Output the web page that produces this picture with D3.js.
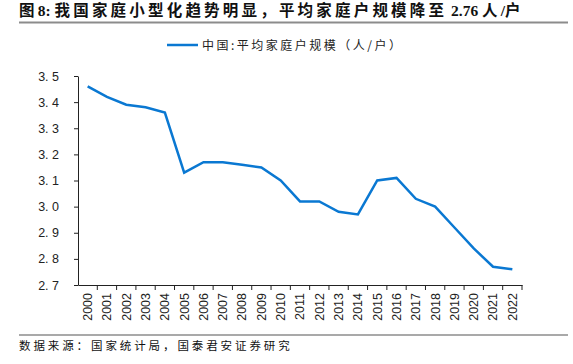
<!DOCTYPE html>
<html>
<head>
<meta charset="utf-8">
<script src="https://cdn.jsdelivr.net/npm/d3@7"></script>
<style>
  body { margin: 0; background: #fff; }
  svg { display: block; }
</style>
</head>
<body>
<svg width="573" height="364"></svg>
<script>
const years = ["2000","2001","2002","2003","2004","2005","2006","2007","2008","2009","2010",
  "2011","2012","2013","2014","2015","2016","2017","2018","2019","2020","2021","2022"];
const householdSize = [3.46, 3.42, 3.39, 3.38, 3.36, 3.13, 3.17, 3.17, 3.16, 3.15, 3.10,
  3.02, 3.02, 2.98, 2.97, 3.10, 3.11, 3.03, 3.00, 2.92, 2.84, 2.77, 2.76];
const yTicks = [2.7, 2.8, 2.9, 3.0, 3.1, 3.2, 3.3, 3.4, 3.5];
// title pieces: [text, isCJK]
const titleParts = [["图", true], ["8: ", false], ["我国家庭小型化趋势明显，平均家庭户规模降至", true],
  [" 2.76 ", false], ["人", true], ["/", false], ["户", true]];
const seriesName = "中国:平均家庭户规模（人/户）";
const sourceText = "数据来源：国家统计局，国泰君安证券研究";

const svg = d3.select("svg");
const cjk = "'Noto Sans CJK SC', sans-serif";
const serif = "'Liberation Serif', 'Noto Sans CJK SC', serif";

// title
svg.append("text")
  .attr("x", 19).attr("y", 16)
  .attr("font-family", serif)
  .attr("font-weight", "bold")
  .attr("font-size", 15.5)
  .attr("fill", "#111")
  .selectAll("tspan")
  .data(titleParts)
  .join("tspan")
  .attr("letter-spacing", d => d[1] ? 3.2 : 0)
  .text(d => d[0]);

svg.append("line")
  .attr("x1", 19).attr("x2", 568).attr("y1", 22.5).attr("y2", 22.5)
  .attr("stroke", "#8c8c8c").attr("stroke-width", 2);

svg.append("line")
  .attr("x1", 19).attr("x2", 568).attr("y1", 335).attr("y2", 335)
  .attr("stroke", "#8c8c8c").attr("stroke-width", 1.5);

svg.append("text")
  .attr("x", 19).attr("y", 350)
  .attr("font-family", cjk)
  .attr("font-size", 11.5)
  .attr("letter-spacing", 2.9)
  .attr("fill", "#111")
  .text(sourceText);

// scales
const x = d3.scaleBand().domain(years).range([78, 522]);
const y = d3.scaleLinear().domain([2.7, 3.5]).range([285, 76]);

const yAxis = svg.append("g")
  .attr("transform", "translate(78,0)")
  .call(d3.axisLeft(y).tickValues(yTicks)
    .tickFormat(d => d3.format(".1f")(d).replace(".", ".\u00a0"))
    .tickSize(4).tickSizeOuter(0));
yAxis.select(".domain").attr("stroke", "#222");
yAxis.selectAll(".tick line").attr("stroke", "#222");
yAxis.selectAll("text")
  .attr("font-family", "'Liberation Sans', Arial, sans-serif")
  .attr("font-size", 12.5)
  .attr("fill", "#222")
  .attr("x", -19);

const xAxis = svg.append("g")
  .attr("transform", "translate(0,285)")
  .call(d3.axisBottom(x).tickSize(0).tickSizeOuter(0));
xAxis.select(".domain").attr("stroke", "#222");
xAxis.selectAll(".tick line").remove();
xAxis.selectAll("text")
  .attr("font-family", "'Liberation Sans', Arial, sans-serif")
  .attr("font-size", 12.5)
  .attr("fill", "#222")
  .attr("transform", "rotate(-90)")
  .attr("text-anchor", "end")
  .attr("x", -8)
  .attr("y", 0)
  .attr("dy", "0.35em");

// separator ticks between categories
svg.append("g").selectAll("line")
  .data(years)
  .join("line")
  .attr("x1", d => x(d) + x.bandwidth())
  .attr("x2", d => x(d) + x.bandwidth())
  .attr("y1", 285).attr("y2", 290)
  .attr("stroke", "#222");

// line
const pts = years.map((yr, i) => ({ yr, v: householdSize[i] }));
svg.append("path")
  .datum(pts)
  .attr("fill", "none")
  .attr("stroke", "#0a78d2")
  .attr("stroke-width", 2.5)
  .attr("d", d3.line().x(d => x(d.yr) + x.bandwidth() / 2).y(d => y(d.v)));

// legend
svg.append("line")
  .attr("x1", 167).attr("x2", 198).attr("y1", 45).attr("y2", 45)
  .attr("stroke", "#0a78d2").attr("stroke-width", 2.5);
svg.append("text")
  .attr("x", 202).attr("y", 49.5)
  .attr("font-family", cjk)
  .attr("font-size", 12)
  .attr("letter-spacing", 2.5)
  .attr("fill", "#222")
  .text(seriesName);
</script>
</body>
</html>
